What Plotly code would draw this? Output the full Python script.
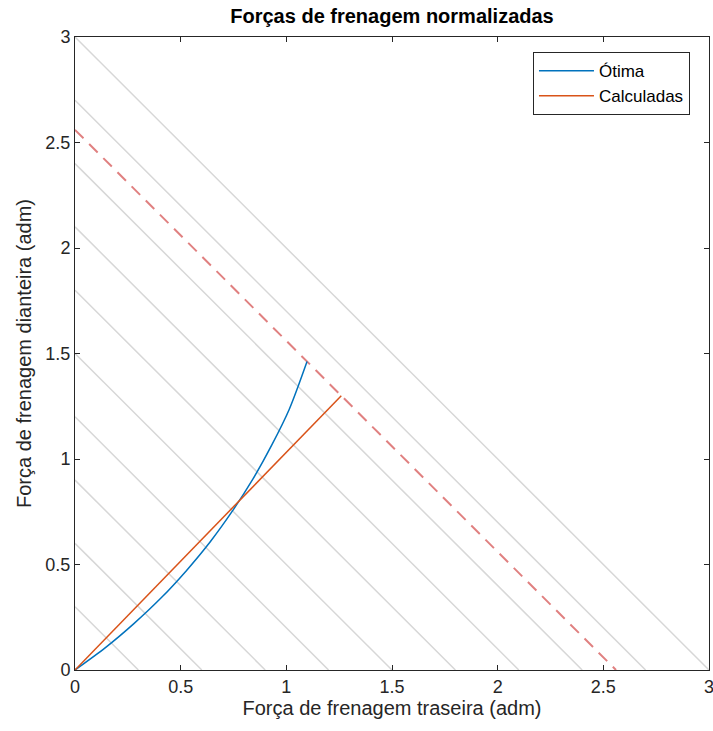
import plotly.graph_objects as go

# Data
otima_x = [0, 0.144, 0.280, 0.408, 0.528, 0.641, 0.746, 0.843, 0.932, 1.014, 1.098]
otima_y = [0, 0.106, 0.221, 0.342, 0.472, 0.609, 0.755, 0.907, 1.068, 1.236, 1.462]

calc_x = [0, 1.26]
calc_y = [0, 1.30]

iso_levels = [0.3, 0.6, 0.9, 1.2, 1.5, 1.8, 2.1, 2.4, 2.7, 3.0]
dashed_level = 2.56

tick_vals = [0, 0.5, 1, 1.5, 2, 2.5, 3]
tick_text = ["0", "0.5", "1", "1.5", "2", "2.5", "3"]

FONT = "Arial, Liberation Sans, Helvetica, sans-serif"
AX = "#262626"

fig = go.Figure()

for c in iso_levels:
    fig.add_trace(go.Scatter(x=[0, c], y=[c, 0], mode="lines",
                             line=dict(color="rgb(215,215,215)", width=1.5),
                             showlegend=False, hoverinfo="skip"))

fig.add_trace(go.Scatter(x=[0, dashed_level], y=[dashed_level, 0], mode="lines",
                         line=dict(color="rgb(224,128,128)", width=2, dash="12px,8px"),
                         showlegend=False, hoverinfo="skip"))

fig.add_trace(go.Scatter(x=otima_x, y=otima_y, mode="lines", name="Ótima",
                         line=dict(color="#0072BD", width=1.5, shape="spline", smoothing=0.8)))
fig.add_trace(go.Scatter(x=calc_x, y=calc_y, mode="lines", name="Calculadas",
                         line=dict(color="#D95319", width=1.5)))

axis_common = dict(range=[0, 3], tickvals=tick_vals, ticktext=tick_text,
                   showgrid=False, zeroline=False, showline=True, linecolor=AX,
                   linewidth=1, mirror="ticks", ticks="inside", ticklen=5,
                   tickcolor=AX, ticklabeloverflow="allow", automargin=False,
                   tickfont=dict(family=FONT, size=18, color=AX))

fig.update_layout(
    width=713, height=731,
    margin=dict(l=75, r=4, t=37, b=61),
    paper_bgcolor="white", plot_bgcolor="white",
    font=dict(family=FONT, color=AX),
    title=dict(text="<b>Forças de frenagem normalizadas</b>", x=(75 + 317) / 713,
               xanchor="center", y=1 - 16 / 731, yanchor="middle", yref="container",
               font=dict(family=FONT, size=20, color="#000000")),
    xaxis=dict(**axis_common,
               title=dict(text="Força de frenagem traseira (adm)",
                          font=dict(family=FONT, size=20, color=AX), standoff=4)),
    yaxis=dict(**axis_common,
               title=dict(text="Força de frenagem dianteira (adm)",
                          font=dict(family=FONT, size=20, color=AX), standoff=8)),
    legend=dict(x=0.97, y=0.976, xanchor="right", yanchor="top",
                bgcolor="white", bordercolor=AX, borderwidth=1,
                font=dict(family=FONT, size=17, color="#000000"),
                itemwidth=55, tracegroupgap=0),
)

fig.write_html("out.html")
